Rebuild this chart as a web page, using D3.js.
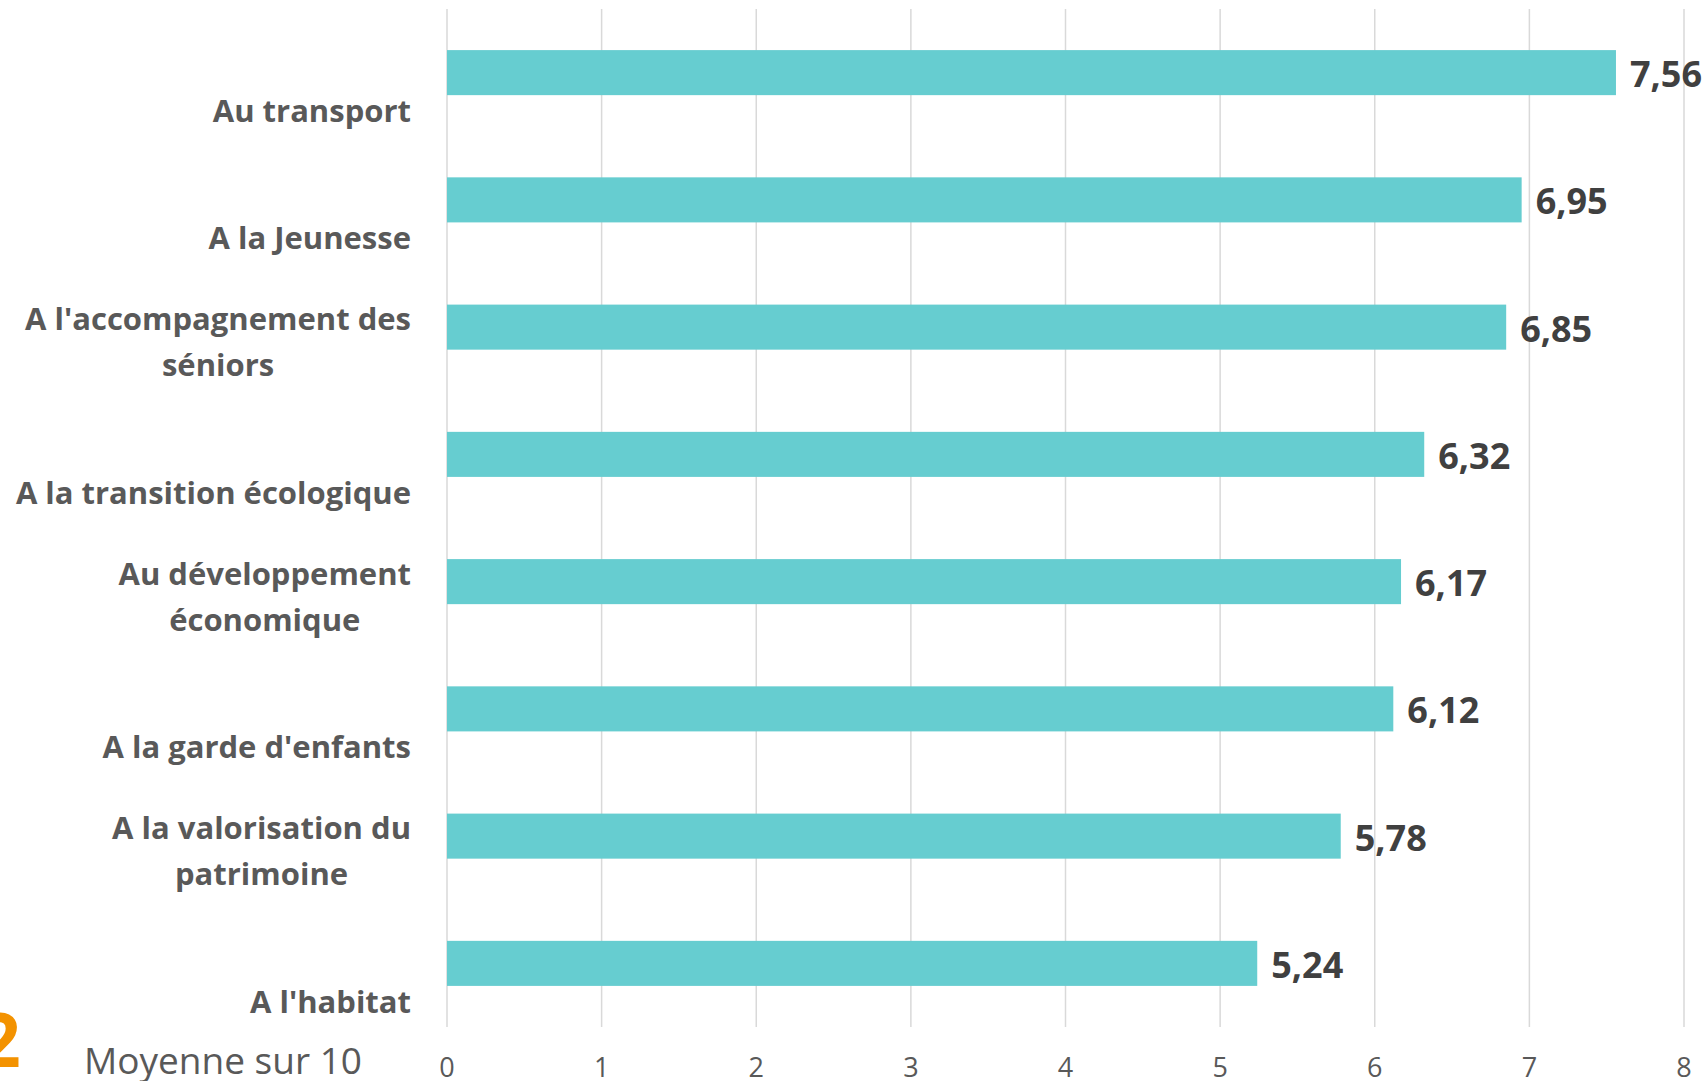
<!DOCTYPE html>
<html>
<head>
<meta charset="utf-8">
<script src="https://cdn.jsdelivr.net/npm/d3@7"></script>
<style>
  body { margin: 0; background: #fff; }
  svg { display: block; }
</style>
</head>
<body>
<div id="chart"></div>
<script>
// categories, top to bottom (\n = line break as in the original)
var categories = [
  "Au transport",
  "A la Jeunesse",
  "A l'accompagnement des\nséniors",
  "A la transition écologique",
  "Au développement\néconomique",
  "A la garde d'enfants",
  "A la valorisation du\npatrimoine",
  "A l'habitat"
]
var values = [7.56, 6.95, 6.85, 6.32, 6.17, 6.12, 5.78, 5.24]
var ticks = [0, 1, 2, 3, 4, 5, 6, 7, 8]

var width = 1706
var height = 1081
var margin = {top: 9, right: 22, bottom: 54, left: 447}
var font = '"Open Sans", sans-serif'

var svg = d3.select("#chart")
  .append("svg")
    .attr("width", width)
    .attr("height", height)

var x = d3.scaleLinear()
  .domain([0, 8])
  .range([margin.left, width - margin.right])

var y = d3.scaleBand()
  .domain(categories)
  .range([margin.top, height - margin.bottom])
  .paddingInner(0.646)
  .paddingOuter(0.323)

// vertical gridlines
svg.selectAll(".grid")
  .data(ticks)
  .enter()
  .append("line")
    .attr("x1", function(d) { return x(d) })
    .attr("x2", function(d) { return x(d) })
    .attr("y1", margin.top)
    .attr("y2", height - margin.bottom)
    .attr("stroke", "#d9d9d9")
    .attr("stroke-width", 1.5)

// tick labels
svg.selectAll(".tick")
  .data(ticks)
  .enter()
  .append("text")
    .attr("x", function(d) { return x(d) })
    .attr("y", 1077)
    .attr("text-anchor", "middle")
    .style("font-family", font)
    .style("font-size", "27px")
    .style("fill", "#595959")
    .text(function(d) { return d })

// bars
svg.selectAll(".bar")
  .data(values)
  .enter()
  .append("rect")
    .attr("x", x(0))
    .attr("y", function(d, i) { return y(categories[i]) })
    .attr("width", function(d) { return x(d) - x(0) })
    .attr("height", y.bandwidth())
    .attr("fill", "#66cdd0")

// value labels
svg.selectAll(".val")
  .data(values)
  .enter()
  .append("text")
    .attr("x", function(d) { return x(d) + 14 })
    .attr("y", function(d, i) { return y(categories[i]) + y.bandwidth() / 2 })
    .attr("dy", "0.4em")
    .style("font-family", font)
    .style("font-weight", "bold")
    .style("font-size", "36px")
    .style("fill", "#404040")
    .text(function(d) { return d.toFixed(2).replace(".", ",") })

// category labels: last line sits below the bar centre
var lineH = 46
categories.forEach(function(c) {
  var lines = c.split("\n")
  var base = y(c) + y.bandwidth() / 2 + 38
  var t = svg.append("text")
    .attr("text-anchor", "middle")
    .style("font-family", font)
    .style("font-weight", "bold")
    .style("font-size", "31px")
    .style("fill", "#595959")
  lines.forEach(function(l, j) {
    t.append("tspan")
      .attr("x", 0)
      .attr("y", base - (lines.length - 1 - j) * lineH)
      .attr("dy", "0.36em")
      .text(l)
  })
  // right-align the block, each line centred inside it
  var w = t.node().getBBox().width
  t.selectAll("tspan").attr("x", 411 - w / 2)
})

// footer
svg.append("text")
  .attr("x", 21)
  .attr("y", 1067)
  .attr("text-anchor", "end")
  .style("font-family", font)
  .style("font-weight", "bold")
  .style("font-size", "75px")
  .style("fill", "#f39200")
  .text("2")

svg.append("text")
  .attr("x", 84)
  .attr("y", 1074)
  .style("font-family", font)
  .style("font-size", "37px")
  .style("fill", "#595959")
  .text("Moyenne sur 10")
</script>
</body>
</html>
